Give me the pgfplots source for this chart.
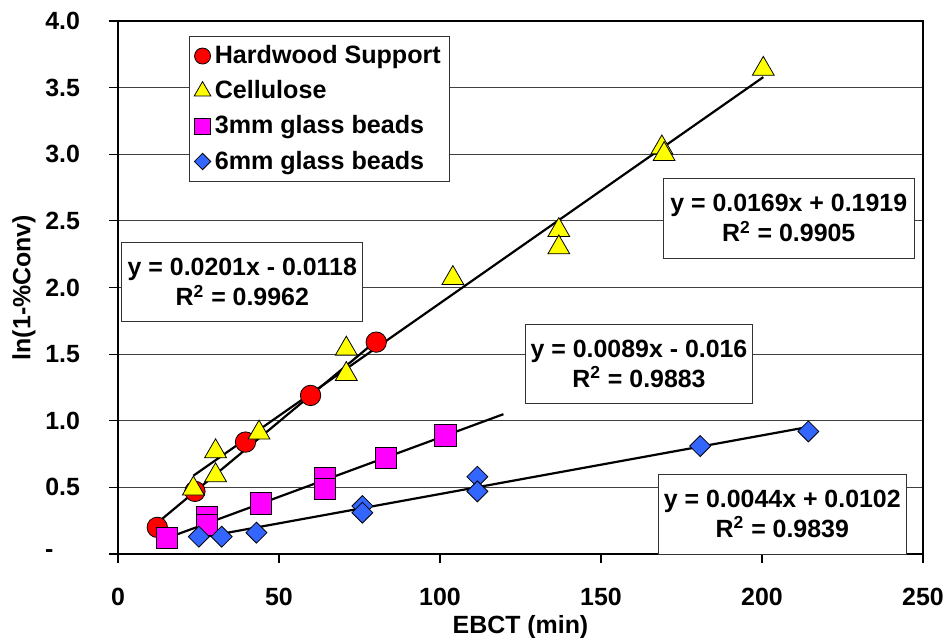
\documentclass[border=0pt]{standalone}
\usepackage{fontspec}
\setmainfont{Liberation Sans}
\usepackage{pgfplots}
\pgfplotsset{compat=1.18}
\definecolor{myblue}{RGB}{51,102,255}
\definecolor{mymag}{RGB}{255,0,255}
\definecolor{myyel}{RGB}{255,255,0}
\definecolor{myred}{RGB}{255,0,0}
\begin{document}
\begin{tikzpicture}
\useasboundingbox (0,0) rectangle (474.5bp,-319bp);
\begin{axis}[
  at={(59bp,-277bp)}, anchor=south west,
  scale only axis, width=402.5bp, height=266.5bp,
  xmin=0, xmax=250, ymin=0, ymax=4,
  xtick={0,50,100,150,200,250}, ytick={0,0.5,1,1.5,2,2.5,3,3.5,4},
  xticklabels={0,50,100,150,200,250},
  yticklabels={\raisebox{-1.5bp}{\makebox[17.4bp][l]{-}},0.5,1.0,1.5,2.0,2.5,3.0,3.5,4.0},
  xtick pos=left, ytick pos=left,
  tick align=outside, major tick length=4.5bp,
  ymajorgrids, grid style={black!75, line width=0.5bp},
  axis line style={black, line width=0.8bp},
  tick style={black, line width=0.6bp},
  font=\fontsize{12.5}{15}\selectfont\bfseries,
  xticklabel style={yshift=-9bp},
  yticklabel style={xshift=-11bp},
  xlabel={EBCT (min)}, ylabel={ln(1-\%Conv)},
  xlabel style={yshift=2bp},
  ylabel style={yshift=-2bp},
  legend style={at={(axis cs:22,3.887)}, anchor=north west, draw=black!80, fill=white,
    font=\fontsize{12.6}{15}\selectfont\bfseries, row sep=3bp, inner sep=2.5bp,
    legend cell align=left},
  clip=false,
]
\addlegendimage{only marks, mark=*, mark size=4bp, mark options={fill=myred, draw=black, line width=0.4bp}}
\addlegendentry{Hardwood Support}
\addlegendimage{only marks, mark=triangle*, mark size=4.8bp, mark options={fill=myyel, draw=black, line width=0.4bp}}
\addlegendentry{Cellulose}
\addlegendimage{only marks, mark=square*, mark size=4bp, mark options={fill=mymag, draw=black, line width=0.4bp}}
\addlegendentry{3mm glass beads}
\addlegendimage{only marks, mark=square*, mark size=2.9bp, mark options={fill=myblue, draw=black, line width=0.4bp, rotate=45}}
\addlegendentry{6mm glass beads}
\addplot[forget plot, only marks, mark=*, mark size=5.1bp, mark options={fill=myred, draw=black, line width=0.4bp}]
  coordinates {(12.2,0.20) (23.9,0.47) (39.6,0.84) (59.8,1.19) (80.2,1.59)};
\addplot[forget plot, only marks, mark=triangle*, mark size=6.3bp, mark options={fill=myyel, draw=black, line width=0.4bp}]
  coordinates {(23.4,0.49) (30.3,0.77) (30.3,0.59) (43.8,0.91) (70.9,1.54) (70.9,1.35)
  (104.0,2.07) (136.9,2.43) (136.9,2.30) (168.9,3.05) (169.6,3.00) (200.4,3.64)};
\addplot[forget plot, only marks, mark=square*, mark size=5.3bp, mark options={fill=mymag, draw=black, line width=0.4bp}]
  coordinates {(15.1,0.12) (27.7,0.28) (27.7,0.22) (44.4,0.38) (64.3,0.57) (64.3,0.49)
  (83.3,0.72) (101.7,0.89)};
\addplot[forget plot, only marks, mark=square*, mark size=3.7bp, mark options={fill=myblue, draw=black, line width=0.4bp, rotate=45}]
  coordinates {(25.1,0.13) (32.2,0.13) (43.0,0.16) (75.9,0.36) (75.9,0.31)
  (111.6,0.58) (111.6,0.47) (180.8,0.81) (214.4,0.92)};
\addplot[black, line width=1.1bp, forget plot] coordinates {(12.2,0.2334) (80.2,1.6002)};
\addplot[black, line width=1.1bp, forget plot] coordinates {(23.4,0.5874) (200.4,3.5787)};
\addplot[black, line width=1.1bp, forget plot] coordinates {(15.1,0.1184) (119.7,1.0493)};
\addplot[black, line width=1.1bp, forget plot] coordinates {(25.1,0.1206) (214.4,0.9536)};
\begin{scope}[every node/.style={draw=black!80, fill=white, align=center, line width=0.5bp,
   font=\fontsize{12.5}{15}\selectfont\bfseries, inner sep=0pt}]
\node[minimum width=120.5bp, minimum height=39.5bp] at (axis cs:38.6,2.04) {y = 0.0201x - 0.0118\\R\textsuperscript{2} = 0.9962};
\node[minimum width=125.5bp, minimum height=40bp] at (axis cs:208.3,2.52) {y = 0.0169x + 0.1919\\R\textsuperscript{2} = 0.9905};
\node[minimum width=113.5bp, minimum height=39.5bp] at (axis cs:161.8,1.425) {y = 0.0089x - 0.016\\R\textsuperscript{2} = 0.9883};
\node[minimum width=124bp, minimum height=40bp] at (axis cs:206.3,0.30) {y = 0.0044x + 0.0102\\R\textsuperscript{2} = 0.9839};
\end{scope}
\end{axis}
\end{tikzpicture}
\end{document}
